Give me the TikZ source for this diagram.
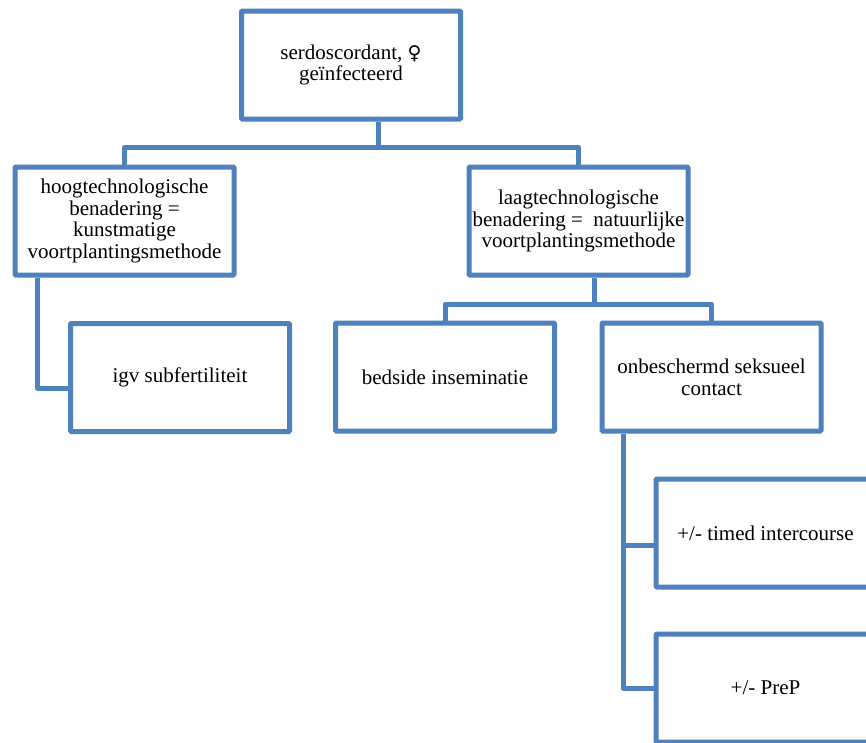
\documentclass[tikz,border=0pt]{standalone}
\usepackage{fontspec}
\setmainfont{Liberation Serif}
\newfontfamily\symfont{DejaVu Sans}
\definecolor{smblue}{HTML}{4F81BD}
\begin{document}
\begin{tikzpicture}[x=1pt,y=-1pt,
  box/.style={draw=smblue, line width=5pt, rounded corners=1pt, fill=white,
    minimum width=219pt, minimum height=108pt, inner sep=0pt, align=center,
    font=\fontsize{21pt}{21.7pt}\selectfont},
  conn/.style={draw=smblue, line width=5pt, line join=round}]
\useasboundingbox (0,0) rectangle (866,742);
\clip (0,0) rectangle (866,742);
\fill[white] (0,0) rectangle (866,742);

\node[box] (top) at (351,65) {serdoscordant, {\symfont\fontsize{19pt}{21.7pt}\selectfont ♀}\\geïnfecteerd};
\node[box] (hoog) at (124.5,221) {hoogtechnologische\\benadering =\\kunstmatige\\voortplantingsmethode};
\node[box] (laag) at (578.5,221) {laagtechnologische\\benadering =\ \ natuurlijke\\voortplantingsmethode};
\node[box] (igv) at (180,377.5) {igv subfertiliteit};
\node[box] (bed) at (445,377) {bedside inseminatie};
\node[box] (onb) at (711.5,377) {onbeschermd seksueel\\contact};
\node[box] (timed) at (765.5,533) {+/- timed intercourse};
\node[box] (prep) at (765.5,688) {+/- PreP};

\draw[conn] ([xshift=27pt]top.south) -- ++(0,26) -| (hoog.north);
\draw[conn] ([xshift=27pt]top.south) -- ++(0,26) -| (laag.north);
\draw[conn] ([xshift=15.5pt]laag.south) -- ++(0,26.5) -| (bed.north);
\draw[conn] ([xshift=15.5pt]laag.south) -- ++(0,26.5) -| (onb.north);
\draw[conn] ([xshift=-87pt]hoog.south) |- ([yshift=-10.5pt]igv.west);
\draw[conn] ([xshift=-88.5pt]onb.south) |- ([yshift=-12pt]timed.west);
\draw[conn] ([xshift=-88.5pt]onb.south) |- (prep.west);
\end{tikzpicture}
\end{document}
